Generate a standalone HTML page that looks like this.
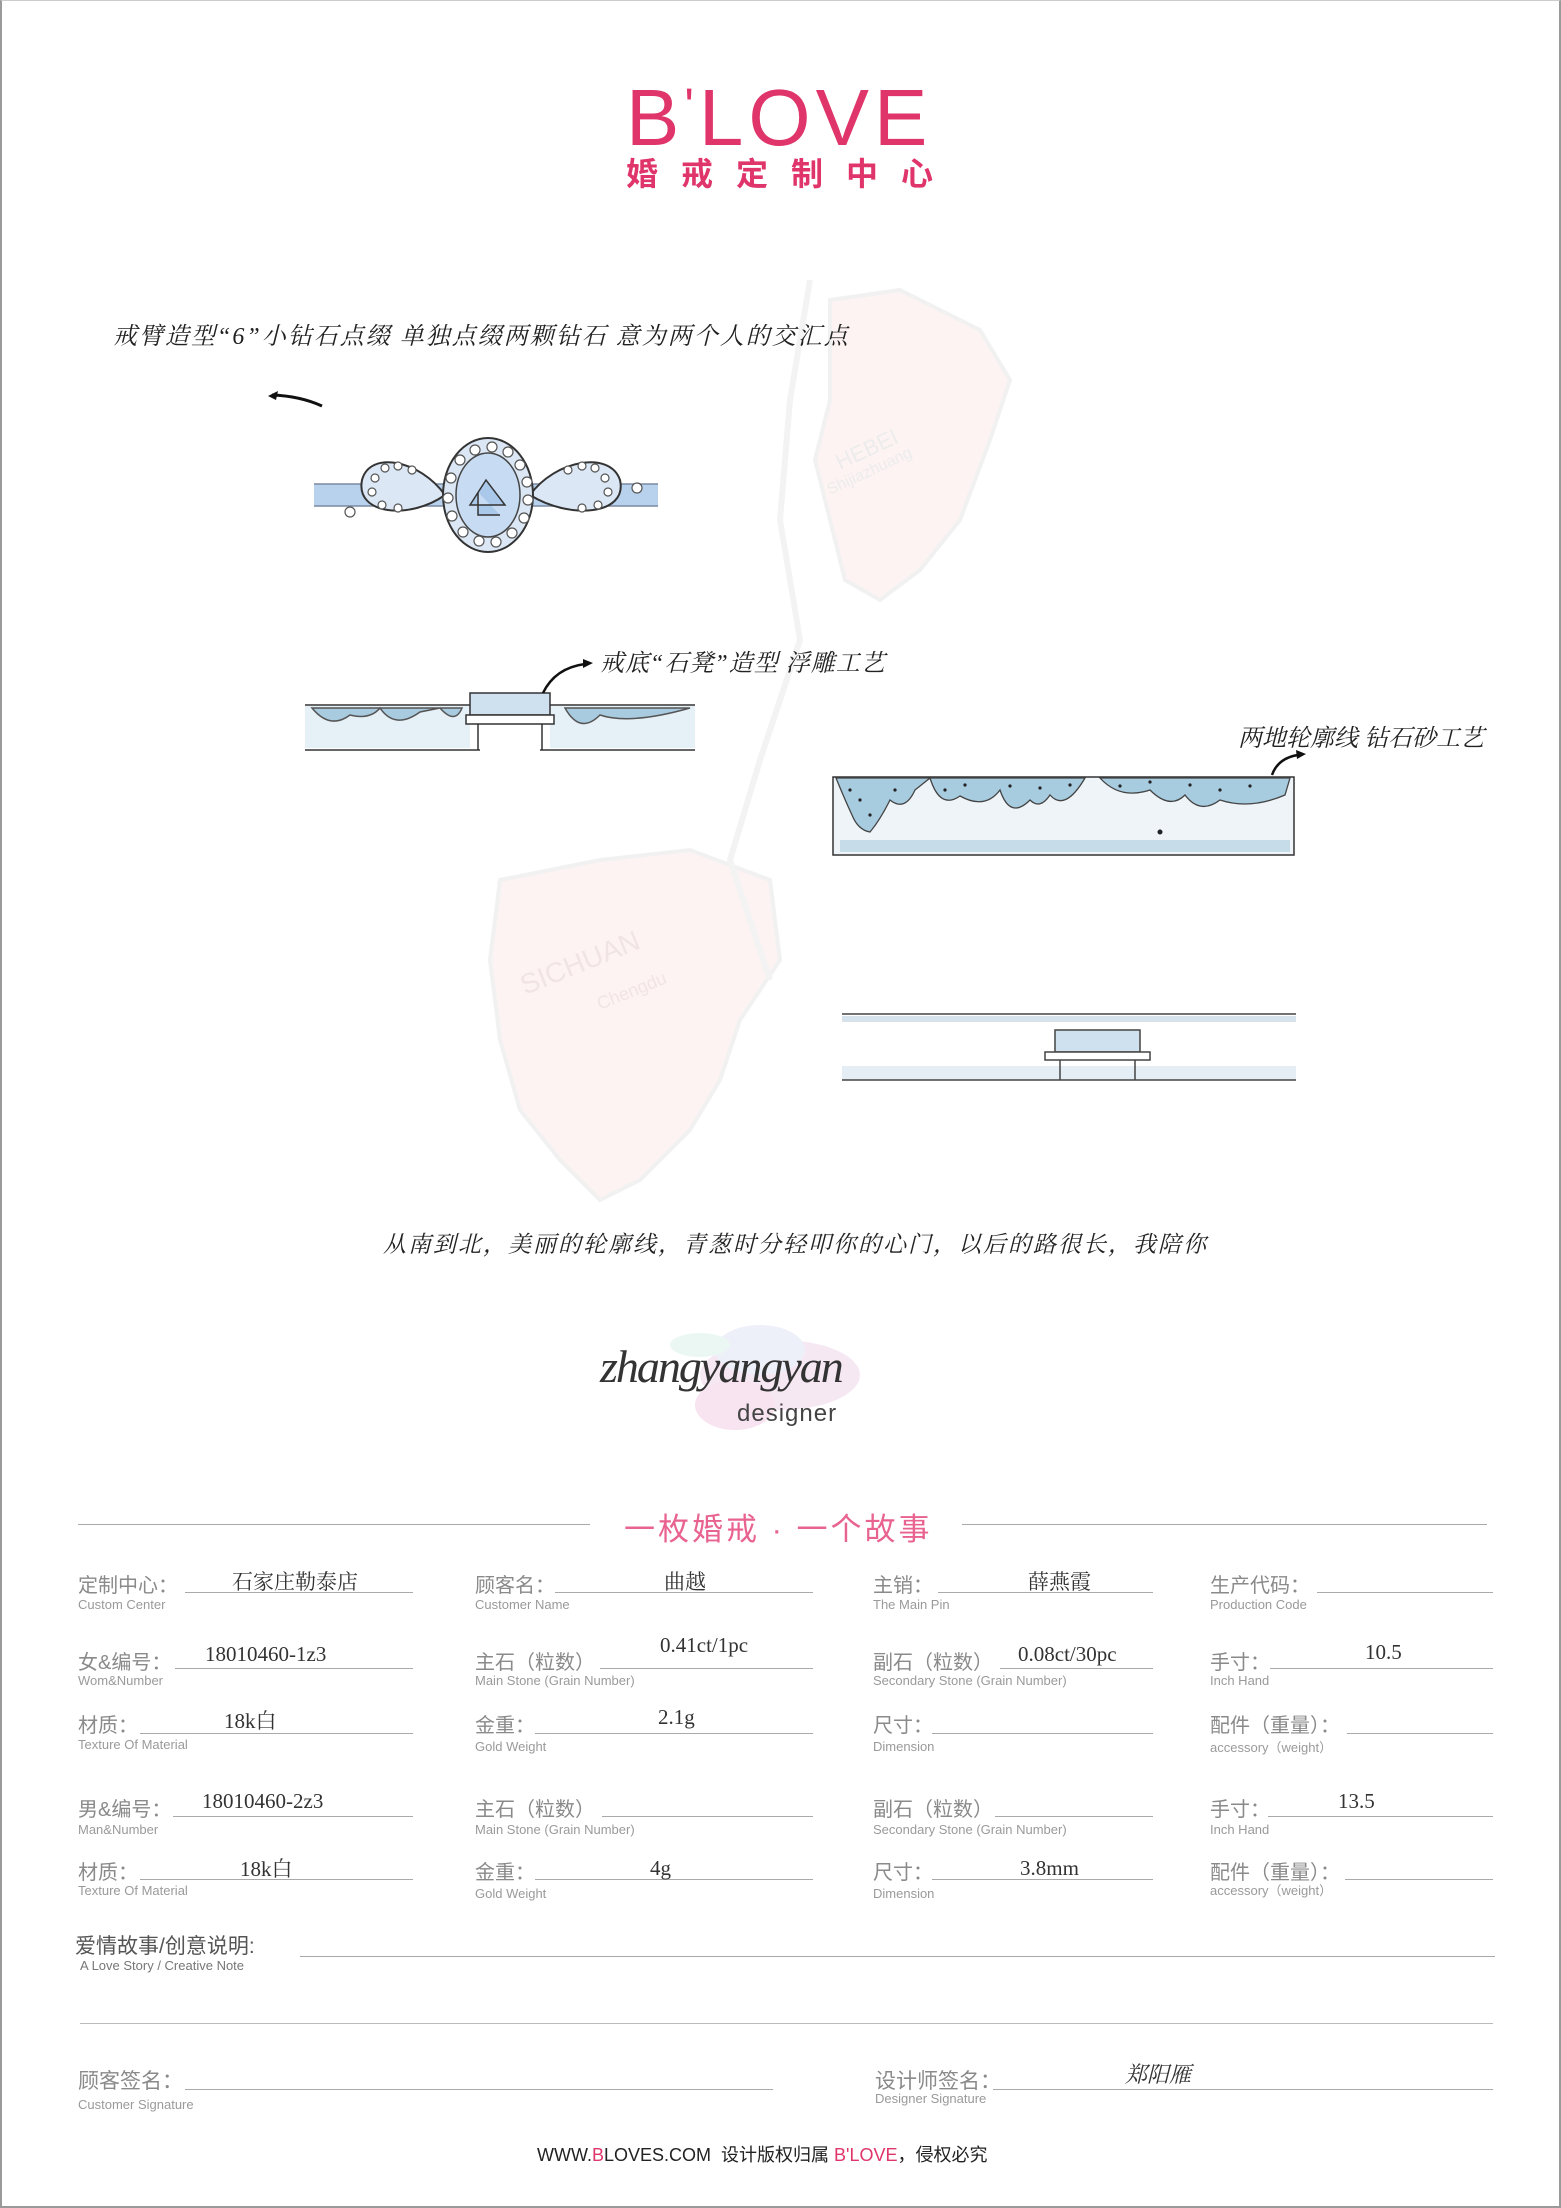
<!DOCTYPE html>
<html><head><meta charset="utf-8"><style>
*{margin:0;padding:0;box-sizing:border-box}
body{width:1561px;height:2208px;background:#fff;position:relative;overflow:hidden;font-family:"Liberation Sans","Noto Sans CJK SC",sans-serif}
.frame{position:absolute;left:0;top:0;width:1561px;height:2208px;border:2px solid #9a9a9a;border-top:1px solid #ccc}
.a{position:absolute;white-space:nowrap}
.hand{font-family:"Liberation Serif","Noto Serif CJK SC",serif;font-style:italic;color:#222}
.lbl{position:absolute;color:#8a8a8a;font-size:20px;white-space:nowrap}
.sub{position:absolute;color:#9a9a9a;font-size:13px;white-space:nowrap}
.ln{position:absolute;height:1px;background:#aaa}
.val{position:absolute;font-family:"Liberation Serif","Noto Serif CJK SC",serif;font-size:21px;color:#333;white-space:nowrap}
</style></head><body>
<div class="frame"></div>

<svg class="a" style="left:0;top:0" width="1561" height="2208">
 <g fill="#fdf1f1" stroke="#eeeeee" stroke-width="4" opacity="0.8">
  <path d="M830 300 L900 290 L980 330 L1010 380 L990 440 L960 520 L920 570 L880 600 L845 580 L830 520 L815 460 L830 400 Z"/>
  <path d="M500 880 L600 860 L690 850 L770 880 L780 960 L740 1020 L720 1080 L690 1130 L640 1180 L600 1200 L560 1160 L520 1110 L500 1040 L490 960 Z"/>
 </g>
 <path d="M810 280 L790 400 L780 520 L800 640 L760 760 L730 860 L770 980" stroke="#f3f3f3" stroke-width="6" fill="none"/>
 <text x="840" y="470" font-size="22" fill="#ececec" transform="rotate(-25 840 470)" font-family="Liberation Sans">HEBEI</text>
 <text x="830" y="495" font-size="16" fill="#ececec" transform="rotate(-25 830 495)" font-family="Liberation Sans">Shijiazhuang</text>
 <text x="525" y="995" font-size="28" fill="#f1e4e4" transform="rotate(-22 525 995)" font-family="Liberation Sans">SICHUAN</text>
 <text x="600" y="1010" font-size="18" fill="#f1e4e4" transform="rotate(-22 600 1010)" font-family="Liberation Sans">Chengdu</text>

 <path d="M272 395 Q300 396 322 406" stroke="#111" stroke-width="3" fill="none"/>
 <path d="M268 396 l10 -5 l-2 9z" fill="#111"/>

 <rect x="314" y="484" width="344" height="22" fill="#b8d2ee"/>
 <line x1="314" y1="484" x2="658" y2="484" stroke="#7a8aa0" stroke-width="1.5"/>
 <line x1="314" y1="506" x2="658" y2="506" stroke="#7a8aa0" stroke-width="1.5"/>
 <g stroke="#333" stroke-width="2" fill="#dbe7f5">
  <path d="M445 495 C420 460 370 450 362 480 C355 515 410 520 445 495 Z"/>
  <path d="M530 495 C555 460 610 450 620 480 C628 515 570 520 530 495 Z"/>
  <ellipse cx="488" cy="495" rx="45" ry="57"/>
 </g>
 <ellipse cx="488" cy="495" rx="32" ry="42" fill="#c7dbf2" stroke="#444" stroke-width="1.5"/>
 <path d="M470 505 L486 480 L505 505 Z M478 492 L478 515 L500 515" stroke="#333" fill="#a9c8ea" stroke-width="1.5"/>
 <g fill="#fff" stroke="#555" stroke-width="1.2">
  <circle cx="460" cy="460" r="5"/><circle cx="475" cy="450" r="5"/><circle cx="492" cy="447" r="5"/><circle cx="508" cy="452" r="5"/><circle cx="520" cy="465" r="5"/><circle cx="527" cy="482" r="5"/><circle cx="528" cy="500" r="5"/><circle cx="524" cy="518" r="5"/><circle cx="512" cy="533" r="5"/><circle cx="496" cy="542" r="5"/><circle cx="479" cy="541" r="5"/><circle cx="463" cy="532" r="5"/><circle cx="452" cy="516" r="5"/><circle cx="448" cy="498" r="5"/><circle cx="451" cy="478" r="5"/>
  <circle cx="375" cy="478" r="4"/><circle cx="385" cy="468" r="4"/><circle cx="398" cy="466" r="4"/><circle cx="412" cy="470" r="4"/><circle cx="372" cy="492" r="4"/><circle cx="382" cy="505" r="4"/><circle cx="398" cy="508" r="4"/>
  <circle cx="605" cy="478" r="4"/><circle cx="595" cy="468" r="4"/><circle cx="582" cy="466" r="4"/><circle cx="568" cy="470" r="4"/><circle cx="608" cy="492" r="4"/><circle cx="598" cy="505" r="4"/><circle cx="582" cy="508" r="4"/>
  <circle cx="350" cy="512" r="5"/><circle cx="637" cy="488" r="5"/>
 </g>

 <g stroke="#333" stroke-width="1.5">
  <rect x="305" y="706" width="165" height="42" fill="#e6f0f7" stroke="none"/>
  <rect x="550" y="706" width="145" height="42" fill="#e6f0f7" stroke="none"/>
  <line x1="305" y1="705" x2="470" y2="705"/><line x1="550" y1="705" x2="695" y2="705"/>
  <line x1="305" y1="750" x2="480" y2="750"/><line x1="540" y1="750" x2="695" y2="750"/>
  <path d="M312 708 Q330 730 350 715 Q370 720 380 708 Q395 730 420 712 L440 708 Q455 725 462 708 Z" fill="#a9cbe0" stroke="#555"/>
  <path d="M565 708 Q580 735 600 715 Q630 725 690 708 Z" fill="#a9cbe0" stroke="#555"/>
  <rect x="470" y="693" width="80" height="22" fill="#cfe0ee"/>
  <rect x="466" y="715" width="88" height="9" fill="#fff"/>
  <line x1="478" y1="724" x2="478" y2="750"/><line x1="542" y1="724" x2="542" y2="750"/>
  <path d="M543 693 Q555 668 585 664" fill="none" stroke="#111" stroke-width="2.5"/>
 </g>
 <path d="M583 659 l10 4 l-10 5z" fill="#111"/>

 <rect x="833" y="777" width="461" height="78" fill="#eef4f8" stroke="#333" stroke-width="1.5"/>
 <rect x="840" y="840" width="450" height="12" fill="#c7dce9"/>
 <g fill="#a7cbdf" stroke="#444" stroke-width="1.3">
  <path d="M836 778 Q845 800 852 815 Q858 830 870 832 Q880 820 890 800 Q905 812 915 790 L930 778 Z"/>
  <path d="M930 778 Q940 810 960 796 Q985 810 1000 790 Q1010 820 1030 800 Q1040 810 1050 795 Q1065 812 1085 778 Z"/>
  <path d="M1100 778 Q1120 800 1150 790 Q1170 810 1185 795 Q1200 815 1220 800 Q1250 810 1285 795 L1290 778 Z"/>
 </g>
 <g fill="#222">
  <circle cx="850" cy="790" r="1.6"/><circle cx="860" cy="800" r="1.6"/><circle cx="870" cy="815" r="1.6"/><circle cx="895" cy="790" r="1.6"/><circle cx="945" cy="790" r="1.6"/><circle cx="965" cy="785" r="1.6"/><circle cx="1010" cy="786" r="1.6"/><circle cx="1040" cy="788" r="1.6"/><circle cx="1070" cy="785" r="1.6"/><circle cx="1120" cy="786" r="1.6"/><circle cx="1150" cy="782" r="1.6"/><circle cx="1190" cy="785" r="1.6"/><circle cx="1220" cy="790" r="1.6"/><circle cx="1250" cy="786" r="1.6"/><circle cx="1160" cy="832" r="2.5"/>
 </g>
 <path d="M1272 775 Q1278 758 1298 755" fill="none" stroke="#111" stroke-width="2.5"/>
 <path d="M1296 750 l10 4 l-9 5z" fill="#111"/>

 <g stroke="#444" stroke-width="1.5">
  <line x1="842" y1="1014" x2="1296" y2="1014"/>
  <rect x="842" y="1016" width="454" height="6" fill="#d6e3ec" stroke="none"/>
  <rect x="842" y="1066" width="454" height="14" fill="#e5eef4" stroke="none"/>
  <line x1="842" y1="1080" x2="1296" y2="1080"/>
  <rect x="1055" y="1030" width="85" height="22" fill="#cfe0ee"/>
  <rect x="1045" y="1052" width="105" height="8" fill="#fff"/>
  <line x1="1060" y1="1060" x2="1060" y2="1080"/><line x1="1135" y1="1060" x2="1135" y2="1080"/>
 </g>

 <g opacity="0.5">
  <ellipse cx="780" cy="1375" rx="80" ry="35" fill="#efd3e8"/>
  <ellipse cx="760" cy="1350" rx="45" ry="25" fill="#dfe2f5"/>
  <ellipse cx="735" cy="1405" rx="40" ry="25" fill="#f3c8e2"/>
  <ellipse cx="700" cy="1345" rx="30" ry="12" fill="#d8f0e8"/>
 </g>
</svg>

<div class="a" style="left:626px;top:66px;font-size:80px;color:#e0356a;letter-spacing:5px;font-weight:300;line-height:80px">B<span style="font-size:50px;vertical-align:22px">ʹ</span>LOVE</div>
<div class="a" style="left:626px;top:149px;font-size:32px;color:#e0356a;letter-spacing:23px;font-weight:bold">婚戒定制中心</div>

<div class="a hand" style="left:113px;top:316px;font-size:24px;letter-spacing:2px">戒臂造型“6”小钻石点缀 单独点缀两颗钻石 意为两个人的交汇点</div>
<div class="a hand" style="left:600px;top:643px;font-size:24px;letter-spacing:1px">戒底“石凳”造型 浮雕工艺</div>
<div class="a hand" style="left:1238px;top:718px;font-size:24px">两地轮廓线 钻石砂工艺</div>
<div class="a hand" style="left:383px;top:1226px;font-size:23px;letter-spacing:2px">从南到北，美丽的轮廓线，青葱时分轻叩你的心门，以后的路很长，我陪你</div>

<div class="a" style="left:600px;top:1340px;font-family:'Liberation Serif',serif;font-style:italic;font-size:46px;color:#333;letter-spacing:-2px;font-weight:100">zhangyangyan</div>
<div class="a" style="left:737px;top:1400px;font-size:24px;color:#444;letter-spacing:1px">designer</div>

<div class="ln" style="left:78px;top:1524px;width:512px"></div>
<div class="ln" style="left:962px;top:1524px;width:525px"></div>
<div class="a" style="left:624px;top:1504px;font-size:31px;color:#e8638f;letter-spacing:3px">一枚婚戒 · 一个故事</div>

<div class="lbl" style="left:78px;top:1569px">定制中心：</div><div class="ln" style="left:185px;top:1592px;width:228px"></div><div class="sub" style="left:78px;top:1597px">Custom Center</div><div class="val" style="left:232px;top:1566px">石家庄勒泰店</div>
<div class="lbl" style="left:475px;top:1569px">顾客名：</div><div class="ln" style="left:555px;top:1592px;width:258px"></div><div class="sub" style="left:475px;top:1597px">Customer Name</div><div class="val" style="left:664px;top:1566px">曲越</div>
<div class="lbl" style="left:873px;top:1569px">主销：</div><div class="ln" style="left:938px;top:1592px;width:215px"></div><div class="sub" style="left:873px;top:1597px">The Main Pin</div><div class="val" style="left:1028px;top:1566px">薛燕霞</div>
<div class="lbl" style="left:1210px;top:1569px">生产代码：</div><div class="ln" style="left:1317px;top:1592px;width:176px"></div><div class="sub" style="left:1210px;top:1597px">Production Code</div>
<div class="lbl" style="left:78px;top:1646px">女&amp;编号：</div><div class="ln" style="left:175px;top:1668px;width:238px"></div><div class="sub" style="left:78px;top:1673px">Wom&amp;Number</div><div class="val" style="left:205px;top:1642px">18010460-1z3</div>
<div class="lbl" style="left:475px;top:1646px">主石（粒数）</div><div class="ln" style="left:600px;top:1668px;width:213px"></div><div class="sub" style="left:475px;top:1673px">Main Stone (Grain Number)</div><div class="val" style="left:660px;top:1633px">0.41ct/1pc</div>
<div class="lbl" style="left:873px;top:1646px">副石（粒数）</div><div class="ln" style="left:1000px;top:1668px;width:153px"></div><div class="sub" style="left:873px;top:1673px">Secondary Stone (Grain Number)</div><div class="val" style="left:1018px;top:1642px">0.08ct/30pc</div>
<div class="lbl" style="left:1210px;top:1646px">手寸：</div><div class="ln" style="left:1270px;top:1668px;width:223px"></div><div class="sub" style="left:1210px;top:1673px">Inch Hand</div><div class="val" style="left:1365px;top:1640px">10.5</div>
<div class="lbl" style="left:78px;top:1709px">材质：</div><div class="ln" style="left:140px;top:1733px;width:273px"></div><div class="sub" style="left:78px;top:1737px">Texture Of Material</div><div class="val" style="left:224px;top:1705px">18k白</div>
<div class="lbl" style="left:475px;top:1709px">金重：</div><div class="ln" style="left:535px;top:1733px;width:278px"></div><div class="sub" style="left:475px;top:1739px">Gold Weight</div><div class="val" style="left:658px;top:1705px">2.1g</div>
<div class="lbl" style="left:873px;top:1709px">尺寸：</div><div class="ln" style="left:932px;top:1733px;width:221px"></div><div class="sub" style="left:873px;top:1739px">Dimension</div>
<div class="lbl" style="left:1210px;top:1709px">配件（重量）：</div><div class="ln" style="left:1347px;top:1733px;width:146px"></div><div class="sub" style="left:1210px;top:1737px">accessory（weight）</div>
<div class="lbl" style="left:78px;top:1793px">男&amp;编号：</div><div class="ln" style="left:173px;top:1816px;width:240px"></div><div class="sub" style="left:78px;top:1822px">Man&amp;Number</div><div class="val" style="left:202px;top:1789px">18010460-2z3</div>
<div class="lbl" style="left:475px;top:1793px">主石（粒数）</div><div class="ln" style="left:602px;top:1816px;width:211px"></div><div class="sub" style="left:475px;top:1822px">Main Stone (Grain Number)</div>
<div class="lbl" style="left:873px;top:1793px">副石（粒数）</div><div class="ln" style="left:995px;top:1816px;width:158px"></div><div class="sub" style="left:873px;top:1822px">Secondary Stone (Grain Number)</div>
<div class="lbl" style="left:1210px;top:1793px">手寸：</div><div class="ln" style="left:1268px;top:1816px;width:225px"></div><div class="sub" style="left:1210px;top:1822px">Inch Hand</div><div class="val" style="left:1338px;top:1789px">13.5</div>
<div class="lbl" style="left:78px;top:1856px">材质：</div><div class="ln" style="left:140px;top:1879px;width:273px"></div><div class="sub" style="left:78px;top:1883px">Texture Of Material</div><div class="val" style="left:240px;top:1853px">18k白</div>
<div class="lbl" style="left:475px;top:1856px">金重：</div><div class="ln" style="left:535px;top:1879px;width:278px"></div><div class="sub" style="left:475px;top:1886px">Gold Weight</div><div class="val" style="left:650px;top:1856px">4g</div>
<div class="lbl" style="left:873px;top:1856px">尺寸：</div><div class="ln" style="left:932px;top:1879px;width:221px"></div><div class="sub" style="left:873px;top:1886px">Dimension</div><div class="val" style="left:1020px;top:1856px">3.8mm</div>
<div class="lbl" style="left:1210px;top:1856px">配件（重量）：</div><div class="ln" style="left:1345px;top:1879px;width:148px"></div><div class="sub" style="left:1210px;top:1880px">accessory（weight）</div>
<div class="a" style="left:75px;top:1930px;font-size:21px;color:#555">爱情故事/创意说明:</div><div class="ln" style="left:300px;top:1956px;width:1195px"></div><div class="sub" style="left:80px;top:1958px;color:#777">A Love Story / Creative Note</div>
<div class="ln" style="left:80px;top:2023px;width:1413px;background:#bbb"></div>
<div class="lbl" style="left:78px;top:2065px;font-size:21px">顾客签名：</div><div class="ln" style="left:185px;top:2089px;width:588px"></div><div class="sub" style="left:78px;top:2097px">Customer Signature</div>
<div class="lbl" style="left:875px;top:2065px;font-size:21px">设计师签名：</div><div class="ln" style="left:993px;top:2089px;width:500px"></div><div class="sub" style="left:875px;top:2091px">Designer Signature</div><div class="val hand" style="left:1125px;top:2058px;font-size:22px">郑阳雁</div>
<div class="a" style="left:537px;top:2141px;font-size:18px;color:#222">WWW.<span style="color:#e0356a">B</span>LOVES.COM &nbsp;设计版权归属 <span style="color:#e0356a">BʹLOVE</span>，侵权必究</div>
</body></html>
